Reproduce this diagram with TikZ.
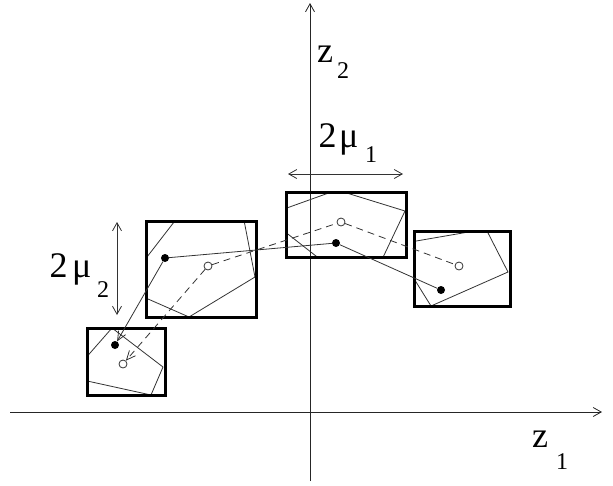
\documentclass[tikz,border=0pt]{standalone}
\usepackage{fontspec}
\setmainfont{Liberation Serif}
\usetikzlibrary{arrows.meta}
\newcommand{\bigf}{\fontsize{36}{36}\selectfont}
\newcommand{\subf}{\fontsize{24}{24}\selectfont}
\tikzset{
  thin line/.style={line width=0.8pt, draw=black!80},
  boxline/.style={line width=3pt, draw=black},
  axis/.style={line width=0.8pt, draw=black!85, -{Straight Barb[length=8pt,width=9pt,line width=0.8pt]}},
  dim/.style={line width=0.8pt, draw=black!80, {Straight Barb[length=8pt,width=9pt,line width=0.8pt]}-{Straight Barb[length=8pt,width=9pt,line width=0.8pt]}},
  dotnode/.style={circle, fill=black, inner sep=0pt, minimum size=8pt},
  ringnode/.style={circle, draw=black!80, line width=0.8pt, fill=white, inner sep=0pt, minimum size=8pt},
  dashline/.style={thin line, dash pattern=on 7pt off 5pt},
  tip/.style={-{Straight Barb[length=9pt,width=8pt,line width=0.8pt]}},
  label/.style={inner sep=0pt, anchor=base west, font=\bigf}
}
\begin{document}
\begin{tikzpicture}[x=1pt,y=-1pt]
\useasboundingbox (0,0) rectangle (613,485);
% axes
\coordinate (xs) at (10,412);
\coordinate (xe) at (602,412);
\coordinate (ys) at (310,481);
\coordinate (ye) at (310,3);
\draw[axis] (xs) -- (xe);
\draw[axis] (ys) -- (ye);
% labels
\node[label] (lz2) at (317,62) {z\kern4pt\raisebox{-16pt}{\subf 2}};
\node[label] (lz1) at (532,447) {z\kern8pt\raisebox{-22pt}{\subf 1}};
\node[label] (lm1) at (318.5,147) {2\kern2.5pt μ\kern6.5pt\raisebox{-15pt}{\subf 1}};
\node[label] (lm2) at (49.5,277) {2\kern4.5pt μ\kern5.5pt\raisebox{-20pt}{\subf 2}};
% dimension arrows
\coordinate (h1) at (288,174);
\coordinate (h2) at (403,174);
\coordinate (v1) at (117,222);
\coordinate (v2) at (117,315);
\draw[dim] (h1) -- (h2);
\draw[dim] (v1) -- (v2);
% polygons clipped to boxes
\begin{scope}
  \clip (87,328) rectangle (165,395);
  \draw[thin line] (112,328) -- (163,367) -- (151,395) -- (69,377) -- cycle;
\end{scope}
\begin{scope}
  \clip (146,221) rectangle (256,317);
  \draw[thin line] (255,277) -- (189,317) -- (123,288) -- (181,213) -- (242,210) -- cycle;
\end{scope}
\begin{scope}
  \clip (286,192) rectangle (406,257);
  \draw[thin line] (337,190) -- (405,211) -- (377,270) -- (330,267) -- (284,231) -- (284,209) -- cycle;
\end{scope}
\begin{scope}
  \clip (414,231) rectangle (510,306);
  \draw[thin line] (486,229) -- (508,272) -- (431,306) -- (393,245) -- cycle;
\end{scope}
% boxes
\draw[boxline] (87,328) rectangle (165,395);
\draw[boxline] (146,221) rectangle (256,317);
\draw[boxline] (286,192) rectangle (406,257);
\draw[boxline] (414,231) rectangle (510,306);
% points
\node[dotnode] (da) at (115,345) {};
\node[dotnode] (db) at (165,258) {};
\node[dotnode] (dc) at (336,243) {};
\node[dotnode] (dd) at (441,290) {};
\node[ringnode] (ra) at (123,364) {};
\node[ringnode] (rb) at (208,266) {};
\node[ringnode] (rc) at (341,222) {};
\node[ringnode] (rd) at (459,266) {};
% connectors
\draw[thin line, tip] (db) -- (da);
\draw[thin line] (db) -- (dc);
\draw[thin line] (dc) -- (dd);
\draw[dashline, tip] (rb) -- (ra);
\draw[dashline] (rb) -- (rc);
\draw[dashline] (rc) -- (rd);
\end{tikzpicture}
\end{document}
